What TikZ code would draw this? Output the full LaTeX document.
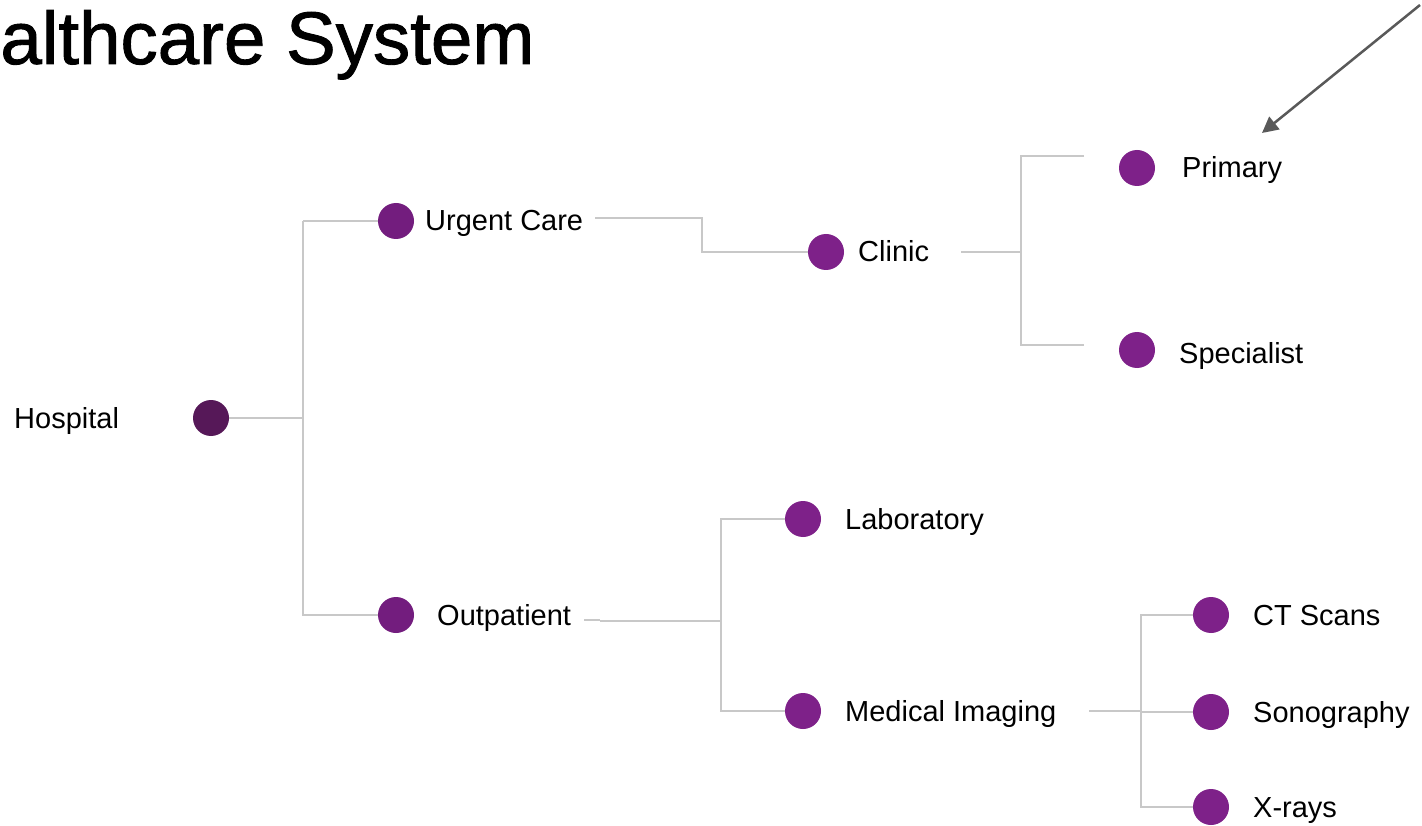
\documentclass[tikz,border=0pt]{standalone}
\usepackage{fontspec}
\setmainfont{Liberation Sans}
\newfontfamily\titlefont[FakeBold=1.2]{Liberation Sans}
\usetikzlibrary{arrows.meta}
\definecolor{dotA}{HTML}{561858}
\definecolor{dotB}{HTML}{731D7E}
\definecolor{dotC}{HTML}{7E2189}
\definecolor{lineg}{HTML}{C8C8C8}
\definecolor{arrg}{HTML}{595959}
\tikzset{
  dot/.style={circle, fill=#1, draw=none, minimum size=36pt, inner sep=0pt},
  lbl/.style={anchor=base west, inner sep=0pt, font=\fontsize{29}{34}\selectfont},
  conn/.style={draw=lineg, line width=2pt},
}
\begin{document}
\begin{tikzpicture}[x=1pt,y=-1pt]
\useasboundingbox (0,0) rectangle (1422,826);
\clip (0,0) rectangle (1422,826);
\fill[white] (0,0) rectangle (1422,826);
% title
\node[anchor=base west, inner sep=0pt, font=\titlefont\fontsize{74.5}{80}\selectfont] (title) at (-95,64) {Healthcare System};
% dots
\node[dot=dotA] (hosp) at (211,418) {};
\node[dot=dotB] (urg) at (396,221) {};
\node[dot=dotB] (outp) at (396,615) {};
\node[dot=dotC] (clin) at (826,252) {};
\node[dot=dotC] (lab) at (803,519) {};
\node[dot=dotC] (med) at (803,711) {};
\node[dot=dotC] (prim) at (1137,168) {};
\node[dot=dotC] (spec) at (1137,350) {};
\node[dot=dotC] (ct) at (1211,615) {};
\node[dot=dotC] (sono) at (1211,712) {};
\node[dot=dotC] (xray) at (1211,807) {};
% labels
\node[lbl] (hospL) at (14,428) {Hospital};
\node[lbl] (urgL) at (425,231) {Urgent Care};
\node[lbl] (outpL) at (437,625) {Outpatient};
\node[lbl] (clinL) at (858,262) {Clinic};
\node[lbl] (labL) at (845,529) {Laboratory};
\node[lbl] (medL) at (845,721) {Medical Imaging};
\node[lbl] (primL) at (1182,178) {Primary};
\node[lbl] (specL) at (1179,363) {Specialist};
\node[lbl] (ctL) at (1253,625) {CT Scans};
\node[lbl] (sonoL) at (1253,722) {Sonography};
\node[lbl] (xrayL) at (1253,817) {X-rays};
% free line ends
\coordinate (urgE) at (595,218);
\coordinate (clinE) at (961,252);
\coordinate (outpE) at (584,620);
\coordinate (outpE2) at (600,621);
\coordinate (medE) at (1089,711);
\coordinate (primW) at (1084,156);
\coordinate (specW) at (1084,345);
\coordinate (arrS) at (1420,5);
\coordinate (arrT) at (1262,133);
% connectors
\draw[conn] (hosp.east) -- (303,418);
\draw[conn] (303,221) |- (outp.west);
\draw[conn] (303,221) -- (urg.west);
\draw[conn] (urgE) -- (702,218) |- (clin.west);
\draw[conn] (clinE) -- (1021,252);
\draw[conn] (primW) -| (1021,345) -- (specW);
\draw[draw=lineg, line width=1.5pt] (outpE) -- (600,620);
\draw[conn, line width=2.5pt] (outpE2) -- (721,621);
\draw[conn] (lab.west) -| (721,711) -- (med.west);
\draw[conn, line width=2.5pt] (medE) -- (1141,711);
\draw[conn] (ct.west) -| (1141,807) -- (xray.west);
\draw[conn] (1141,712) -- (sono.west);
% arrow
\draw[draw=arrg, line width=2.5pt, -{Triangle[length=16pt,width=16pt]}] (arrS) -- (arrT);
\end{tikzpicture}
\end{document}
